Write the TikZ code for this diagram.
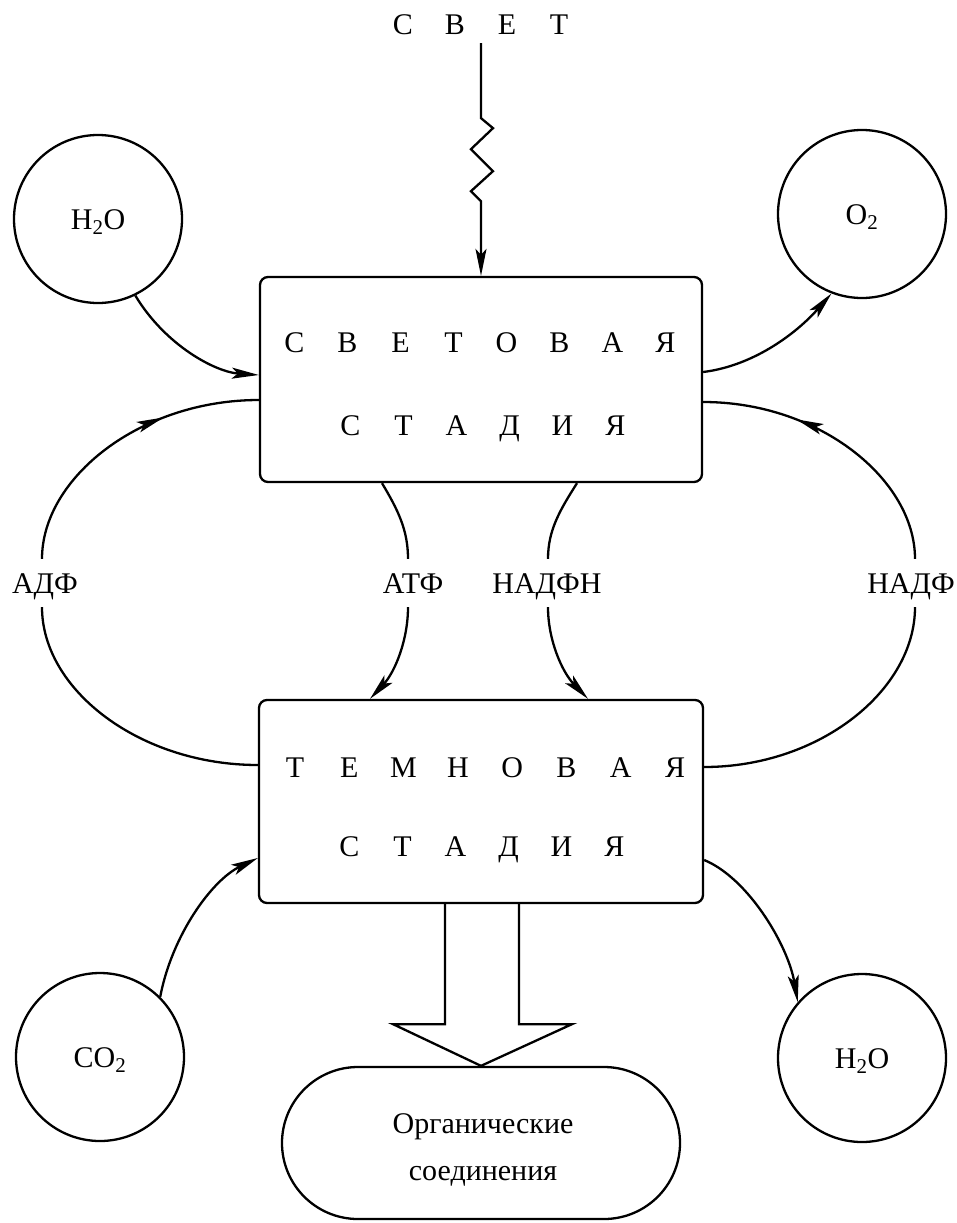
\documentclass[tikz,border=0pt]{standalone}
\usepackage{fontspec}
\setmainfont{Liberation Serif}
\usetikzlibrary{arrows.meta,shapes.misc,decorations.markings,calc}
\newcommand\LS[2][53pt]{\makebox[#1]{#2}}
\begin{document}
\begin{tikzpicture}[x=1pt,y=-1pt,line width=2.3pt,
  arrowend/.style={-{Stealth[length=27pt,width=11pt,inset=6pt]}},
  midtip/.style={postaction={decorate},decoration={markings,mark=at position #1 with {\arrow{Stealth[length=27pt,width=11pt,inset=6pt]}}}},
  txt/.style={font=\fontsize{30}{36}\selectfont, inner sep=0pt},
  captxt/.style={txt, text height=20pt, text depth=0pt},
  blob/.style={draw, circle, minimum size=168pt, inner sep=0pt, txt, text height=20pt, text depth=0pt},
  stage/.style={draw, rectangle, rounded corners=8pt, inner sep=0pt},
  lblgap/.style={captxt, inner ysep=13pt, inner xsep=2pt},
]
\useasboundingbox (0,0) rectangle (957,1223);

% nodes
\node[captxt] (svet) at (481,25) {\LS[52pt]{С}\LS[52pt]{В}\LS[52pt]{Е}\LS[52pt]{Т}};
\node[stage, minimum width=442pt, minimum height=205pt] (light) at (481,379.5) {};
\node[captxt] (l1) at (480,342) {\LS{С}\LS{В}\LS{Е}\LS{Т}\LS{О}\LS{В}\LS{А}\LS{Я}};
\node[captxt] (l2) at (483,425) {\LS{С}\LS{Т}\LS{А}\LS{Д}\LS{И}\LS{Я}};
\node[stage, minimum width=444pt, minimum height=203pt] (dark) at (481,801.5) {};
\node[captxt] (d1) at (485,767) {\LS[54.3pt]{Т}\LS[54.3pt]{Е}\LS[54.3pt]{М}\LS[54.3pt]{Н}\LS[54.3pt]{О}\LS[54.3pt]{В}\LS[54.3pt]{А}\LS[54.3pt]{Я}};
\node[captxt] (d2) at (482,846) {\LS{С}\LS{Т}\LS{А}\LS{Д}\LS{И}\LS{Я}};
\node[blob] (h2oA) at (98,219) {H\textsubscript{2}O};
\node[blob] (o2) at (862,214) {O\textsubscript{2}};
\node[blob] (co2) at (100,1057) {CO\textsubscript{2}};
\node[blob] (h2oB) at (862,1058) {H\textsubscript{2}O};
\node[draw, rounded rectangle, minimum width=398pt, minimum height=152pt, inner sep=0pt] (org) at (481,1143) {};
\node[txt, anchor=base] (org1) at (483,1133) {Органические};
\node[txt, anchor=base] (org2) at (483,1180) {соединения};

\node[lblgap] (adf) at (45,583) {АДФ};
\node[lblgap] (nadf) at (911,583) {НАДФ};
\node[lblgap] (atf) at (413,583) {АТФ};
\node[lblgap] (nadph) at (547,583) {НАДФН};

% light
\draw[arrowend] ([yshift=-7pt]svet.south) -- ++(0,75) -- ++(12,10) -- ++(-22,21) -- ++(22,22) -- ++(-22,20) -- ++(10,10) -- (light.north);

% inputs / outputs
\draw[arrowend] (h2oA.-64) .. controls (165,345) and (215,372) .. ([yshift=4.5pt]light.west);
\draw[arrowend] ([yshift=7.5pt]light.east) .. controls (752,366) and (795,335) .. (o2.-111);
\draw[arrowend] (co2.45) .. controls (172,935) and (212,880) .. ([yshift=-56.5pt]dark.west);
\draw[arrowend] ([yshift=-58.5pt]dark.east) .. controls (748,878) and (788,945) .. (h2oB.139);

% ADF cycle
\draw ([yshift=36.5pt]dark.west) .. controls (140,765) and (42,690) .. ([xshift=-3pt]adf.south);
\draw[midtip=0.67] ([xshift=-3pt]adf.north) .. controls (42,478) and (140,400) .. ([yshift=-20.5pt]light.west);

% NADP cycle
\draw ([yshift=34.5pt]dark.east) .. controls (820,767) and (915,690) .. ([xshift=4pt]nadf.south);
\draw[midtip=0.67] ([xshift=4pt]nadf.north) .. controls (915,480) and (820,402) .. ([yshift=-22.5pt]light.east);

% ATP
\draw ([xshift=-99pt]light.south) .. controls (398,510) and (408,530) .. ([xshift=-5pt]atf.north);
\draw[arrowend] ([xshift=-5pt]atf.south) .. controls (408,640) and (395,672) .. ([xshift=-111pt]dark.north);

% NADPH
\draw ([xshift=96pt]light.south) .. controls (560,510) and (548,530) .. ([xshift=1pt]nadph.north);
\draw[arrowend] ([xshift=1pt]nadph.south) .. controls (548,640) and (562,672) .. ([xshift=107pt]dark.north);

% hollow arrow to organic compounds
\draw[line join=miter] ($(dark.south)+(-36,0)$) -- ++(0,120) -- ++(-52,0) -- (org.north) -- ($(dark.south)+(91,120)$) -- ++(-53,0) -- ($(dark.south)+(38,0)$);
\end{tikzpicture}
\end{document}
